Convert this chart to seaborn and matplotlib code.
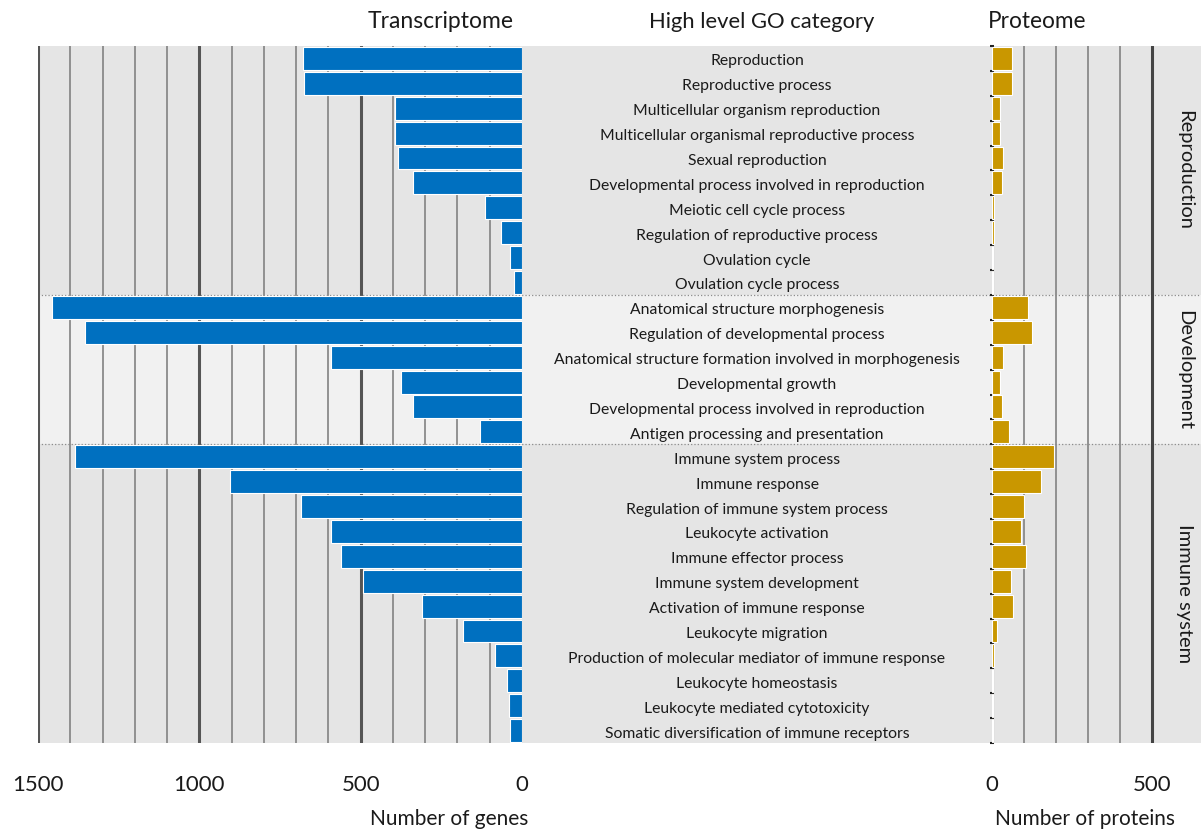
import numpy as np
import pandas as pd
import matplotlib.pyplot as plt
import seaborn as sns

# GO categories, top to bottom
labels = [
    'Reproduction', 'Reproductive process', 'Multicellular organism reproduction',
    'Multicellular organismal reproductive process', 'Sexual reproduction',
    'Developmental process involved in reproduction', 'Meiotic cell cycle process',
    'Regulation of reproductive process', 'Ovulation cycle', 'Ovulation cycle process',
    'Anatomical structure morphogenesis', 'Regulation of developmental process',
    'Anatomical structure formation involved in morphogenesis', 'Developmental growth',
    'Developmental process involved in reproduction', 'Antigen processing and presentation',
    'Immune system process', 'Immune response', 'Regulation of immune system process',
    'Leukocyte activation', 'Immune effector process', 'Immune system development',
    'Activation of immune response', 'Leukocyte migration',
    'Production of molecular mediator of immune response', 'Leukocyte homeostasis',
    'Leukocyte mediated cytotoxicity', 'Somatic diversification of immune receptors',
]
genes = [680, 677, 393, 393, 384, 339, 114, 66, 37, 25,
         1456, 1353, 591, 376, 339, 129,
         1386, 906, 684, 591, 562, 493, 311, 183, 85, 46, 40, 38]
proteins = [63, 63, 25, 25, 33, 30, 7, 5, 2, 2,
            114, 125, 33, 25, 30, 52,
            193, 154, 99, 92, 106, 60, 67, 17, 6, 3, 3, 3]
group_names = ['Reproduction', 'Development', 'Immune system']
group_sizes = [10, 6, 12]
group_colors = ['#e5e5e5', '#f1f1f1', '#e5e5e5']

sns.set_theme(style='white')
plt.rcParams['font.family'] = ['Lato', 'DejaVu Sans']

df = pd.DataFrame({'row': np.arange(len(labels)), 'label': labels,
                   'genes': genes, 'proteins': proteins})
n = len(labels)

W, H = 1201, 832
fig = plt.figure(figsize=(W / 100, H / 100), dpi=100)

def px(x0, y0, x1, y1):
    return [x0 / W, 1 - y1 / H, (x1 - x0) / W, (y1 - y0) / H]

top, bot = 46, 743
x_left, x_zero, x_pzero = 38, 522, 992
scale = 0.32  # pixels per unit on both panels

#background bands + middle labels
bg = fig.add_axes(px(x_left, top, W, bot))
bg.set_xlim(x_left, W)
bg.set_ylim(n - 0.5, -0.5)
bg.axis('off')
start = 0
for g, size, c in zip(group_names, group_sizes, group_colors):
    bg.axhspan(start - 0.5, start + size - 0.5, color=c, lw=0, zorder=0)
    if start > 0:
        bg.axhline(start - 0.5, color='#8c8c8c', lw=0.9, ls=':', zorder=1)
    bg.text(1185, start + size / 2 - 0.5, g, rotation=-90, ha='center', va='center',
            fontsize=14.5, color='#1a1a1a')
    start += size
for i, lab in enumerate(labels):
    bg.text(757, i + 0.12, lab, ha='center', va='center', fontsize=11.3, color='#1a1a1a')

#Transcriptome panel
ax1 = fig.add_axes(px(x_left, top, x_zero, bot))
ax1.set_facecolor('none')
for v in range(100, 1501, 100):
    if v % 500 == 0:
        ax1.axvline(v, color='#555555', lw=2.2, zorder=0)
    else:
        ax1.axvline(v, color='#8a8a8a', lw=1.3, zorder=0)
sns.barplot(data=df, x='genes', y='row', orient='h', native_scale=True,
            color='#0070c0', saturation=1, width=0.92, edgecolor='white',
            linewidth=0.8, ax=ax1, zorder=2)
ax1.set_xlim(1500, 0)
ax1.set_ylim(n - 0.5, -0.5)
ax1.set_xticks([1500, 1000, 500, 0])
ax1.set_xticklabels(['1500', '1000', '500', '0'])
ax1.set_yticks([])
ax1.tick_params(axis='x', length=0, pad=23, labelsize=16, labelcolor='#1a1a1a')
ax1.set_xlabel('')
ax1.set_ylabel('')
for s in ax1.spines.values():
    s.set_visible(False)

#Proteome panel
ax2 = fig.add_axes(px(x_pzero, top, W, bot))
ax2.set_facecolor('none')
for v in range(0, 501, 100):
    if v % 500 == 0:
        ax2.axvline(v, color='#444444', lw=2.2, zorder=0)
    else:
        ax2.axvline(v, color='#8a8a8a', lw=1.3, zorder=0)
sns.barplot(data=df, x='proteins', y='row', orient='h', native_scale=True,
            color='#c99700', saturation=1, width=0.92, edgecolor='white',
            linewidth=0.8, ax=ax2, zorder=2)
ax2.set_xlim(0, (W - x_pzero) / scale)
ax2.set_ylim(n - 0.5, -0.5)
ax2.set_xticks([0, 500])
ax2.set_xticklabels(['0', '500'])
ax2.set_yticks(np.arange(-0.5, n, 1))
ax2.set_yticklabels([])
ax2.tick_params(axis='x', length=0, pad=23, labelsize=16, labelcolor='#1a1a1a')
ax2.tick_params(axis='y', length=3, width=1.5, direction='inout', color='#222222', left=True)
ax2.set_xlabel('')
ax2.set_ylabel('')
for s in ax2.spines.values():
    s.set_visible(False)

#titles and axis labels
fig.text(441 / W, 1 - 22 / H, 'Transcriptome', ha='center', va='center', fontsize=16.5, color='#1a1a1a')
fig.text(762 / W, 1 - 22 / H, 'High level GO category', ha='center', va='center', fontsize=15.8, color='#1a1a1a')
fig.text(1037 / W, 1 - 22 / H, 'Proteome', ha='center', va='center', fontsize=16.3, color='#1a1a1a')
fig.text(449 / W, 1 - 819 / H, 'Number of genes', ha='center', va='center', fontsize=15, color='#1a1a1a')
fig.text(1085 / W, 1 - 819 / H, 'Number of proteins', ha='center', va='center', fontsize=15, color='#1a1a1a')

fig.savefig('out.png', dpi=100)
